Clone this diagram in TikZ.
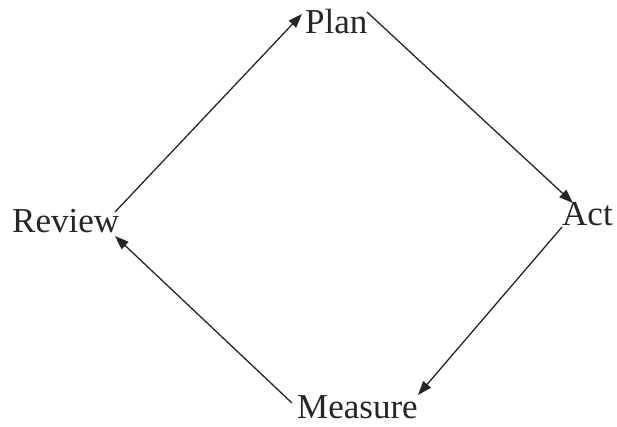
\documentclass[tikz,border=0pt]{standalone}
\usepackage{fontspec}
\setmainfont{Liberation Serif}
\usetikzlibrary{arrows.meta}
\begin{document}
\begin{tikzpicture}[x=1pt,y=-1pt,
  lbl/.style={anchor=base west,inner sep=0pt,font=\fontsize{35}{40}\selectfont,text=black!85},
  conn/.style={draw=black!85,line width=1.3pt,-{Triangle[length=14pt,width=10pt]}}]
\useasboundingbox[fill=white] (0,0) rectangle (617,426);
\node[lbl] (plan) at (305,33) {Plan};
\node[lbl] (act) at (562,225) {Act};
\node[lbl] (review) at (12,232) {Review};
\node[lbl] (measure) at (297,418) {Measure};
\draw[conn] ([shift={(103,-20)}]review.base west) -- ([shift={(-3,-19)}]plan.base west);
\draw[conn] ([shift={(62,-21)}]plan.base west) -- ([shift={(11,-22)}]act.base west);
\draw[conn] ([shift={(0,2)}]act.base west) -- ([shift={(121,-23)}]measure.base west);
\draw[conn] ([shift={(-5,-15)}]measure.base west) -- ([shift={(103,4)}]review.base west);
\end{tikzpicture}
\end{document}
